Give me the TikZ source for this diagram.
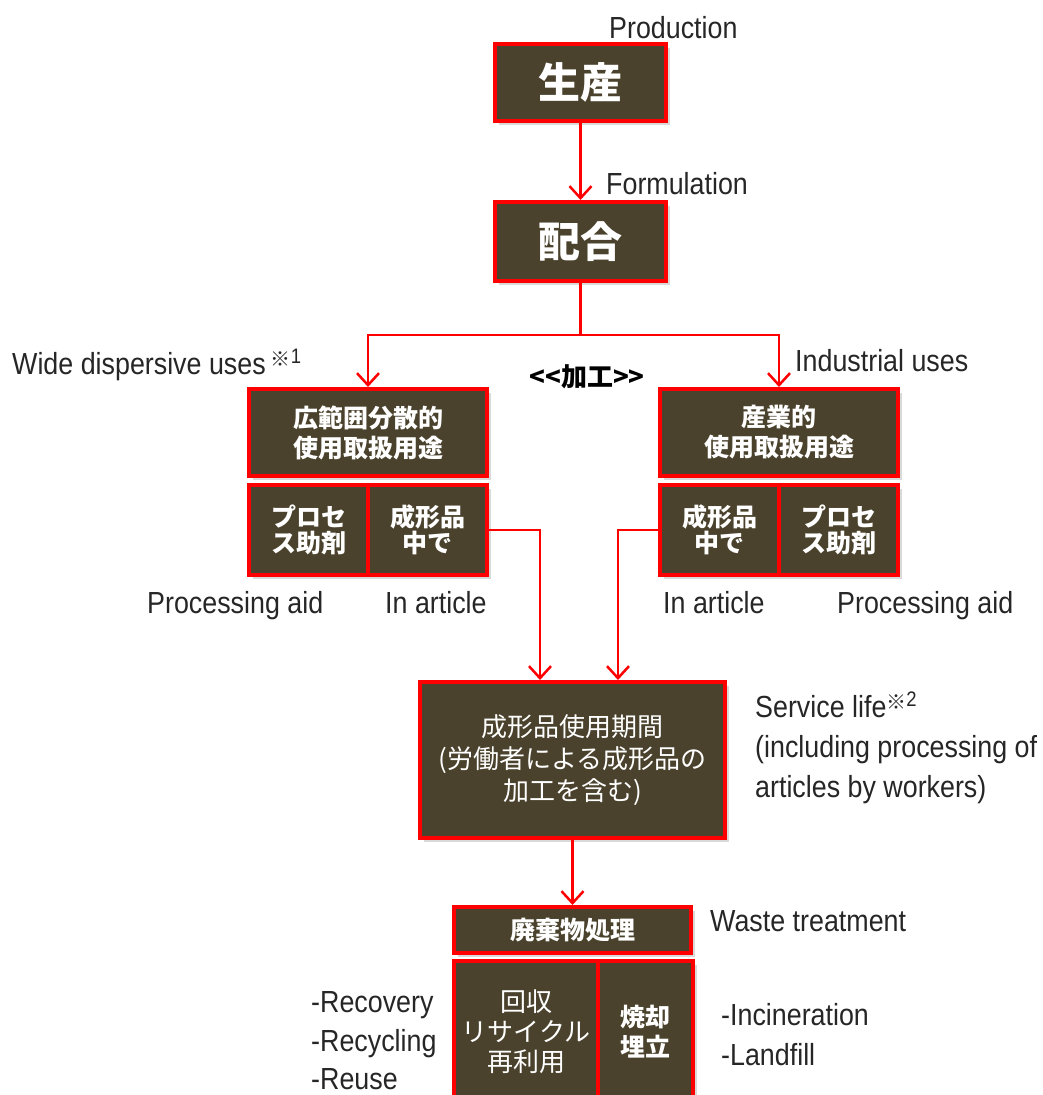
\documentclass[tikz,border=0pt]{standalone}
\usepackage{fontspec}
\setmainfont{Liberation Sans}[FakeStretch=0.88]
\newfontfamily\jp{Noto Sans CJK JP}
\usetikzlibrary{arrows.meta, shadows, positioning}

\definecolor{boxfill}{RGB}{74,66,44}

\tikzset{
  box/.style={draw=red, line width=4pt, fill=boxfill, text=white, align=center, inner sep=0pt,
    drop shadow={shadow xshift=4pt, shadow yshift=-4pt, opacity=0.3}},
  bigtxt/.style={font=\jp\bfseries\fontsize{42}{46}\selectfont},
  usetxt/.style={font=\jp\bfseries\fontsize{25}{30}\selectfont},
  subtxt/.style={font=\jp\bfseries\fontsize{25}{26}\selectfont},
  lifetxt/.style={font=\jp\fontsize{26}{32}\selectfont},
  lbl/.style={inner sep=0pt, text=black!85, align=left, font=\fontsize{30.5}{40}\selectfont},
  arr/.style={draw=red, line width=2.5pt, -{Straight Barb[length=12pt,width=22pt]}},
  redline/.style={draw=red, line width=2.5pt}
}

\newcommand{\note}[1]{\raisebox{8pt}{\jp\fontsize{20}{20}\selectfont ※}\raisebox{11pt}{\fontsize{21}{21}\selectfont #1}}

\begin{document}
\begin{tikzpicture}[x=1pt, y=-1pt]
\useasboundingbox (0,0) rectangle (1043,1095);

% production and formulation
\node[box, bigtxt, minimum width=171pt, minimum height=77pt] (prod) at (580.5,82.5) {生産};
\node[box, bigtxt, minimum width=171pt, minimum height=79pt] (form) at (580.5,241.5) {配合};
\node[lbl, anchor=base west] (prodLbl) at (609,38) {Production};
\node[lbl, anchor=base west] (formLbl) at (606,194) {Formulation};

% wide dispersive uses
\node[box, usetxt, minimum width=238pt, minimum height=87pt] (wideUse) at (368,432.5) {広範囲分散的\\使用取扱用途};
\node[box, subtxt, minimum width=119pt, minimum height=90pt] (wideAid) at (308.5,530) {プロセ\\ス助剤};
\node[box, subtxt, minimum width=119pt, minimum height=90pt] (wideArticle) at (427.5,530) {成形品\\中で};

% industrial uses
\node[box, usetxt, minimum width=238pt, minimum height=87pt] (indUse) at (779,432.5) {産業的\\使用取扱用途};
\node[box, subtxt, minimum width=119pt, minimum height=90pt] (indArticle) at (719.5,530) {成形品\\中で};
\node[box, subtxt, minimum width=119pt, minimum height=90pt] (indAid) at (838.5,530) {プロセ\\ス助剤};

\node[lbl, anchor=base west] (wideLbl) at (12,374) {Wide dispersive uses\,\note{1}};
\node[lbl, anchor=base west] (indLbl) at (795,371) {Industrial uses};
\node[inner sep=0pt, font=\jp\bfseries\fontsize{26}{30}\selectfont] (kakou) at (587,377) {<{}<加工>{}>};
\node[lbl, anchor=base west] (wideAidLbl) at (147,613) {Processing aid};
\node[lbl, anchor=base west] (wideArtLbl) at (385,613) {In article};
\node[lbl, anchor=base west] (indArtLbl) at (663,613) {In article};
\node[lbl, anchor=base west] (indAidLbl) at (837,613) {Processing aid};

% service life
\node[box, lifetxt, minimum width=305pt, minimum height=156pt] (service) at (572.5,760) {成形品使用期間\\(労働者による成形品の\\加工を含む)};
\node[lbl, anchor=west] (serviceLbl) at (755,748) {Service life\note{2}\\(including processing of\\articles by workers)};

% waste treatment
\node[box, usetxt, minimum width=237pt, minimum height=46pt] (waste) at (572.5,930) {廃棄物処理};
\node[box, lifetxt, font=\jp\fontsize{26}{30}\selectfont, minimum width=144pt, minimum height=141pt] (wasteRecov) at (526,1031.5) {回収\\リサイクル\\再利用};
\node[box, usetxt, minimum width=95pt, minimum height=141pt] (wasteIncin) at (645.5,1031.5) {焼却\\埋立};
\node[lbl, anchor=base west] (wasteLbl) at (710,931) {Waste treatment};
\node[lbl, anchor=west, font=\fontsize{30.5}{38.5}\selectfont] (recovLbl) at (311,1041) {-Recovery\\-Recycling\\-Reuse};
\node[lbl, anchor=west] (incinLbl) at (721,1035) {-Incineration\\-Landfill};

% connectors
\coordinate (split) at (580.5,335);
\coordinate (inL) at (540,0);
\coordinate (inR) at (618,0);
\draw[arr] (prod) -- (form);
\draw[redline] (form) -- (split);
\draw[arr] (split) -| (wideUse);
\draw[arr] (split) -| (indUse);
\draw[arr] (wideArticle.east) -| (service.north -| inL);
\draw[arr] (indArticle.west) -| (service.north -| inR);
\draw[arr] (service) -- (waste);
\end{tikzpicture}
\end{document}
